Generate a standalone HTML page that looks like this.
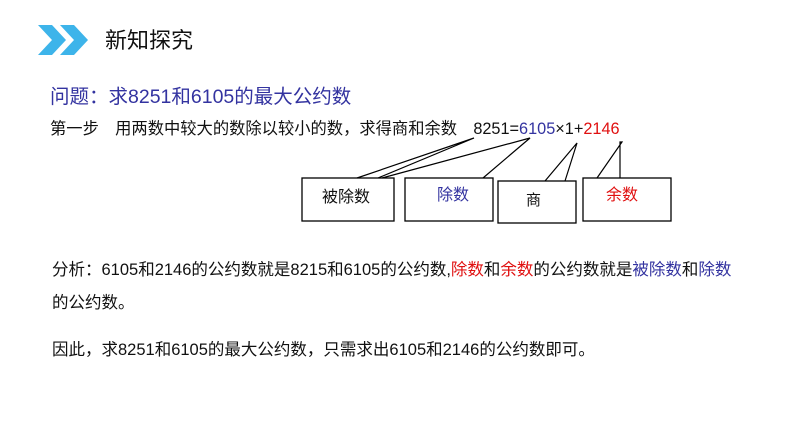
<!DOCTYPE html>
<html><head><meta charset="utf-8"><style>
body{margin:0;width:794px;height:447px;background:#fff;position:relative;overflow:hidden;font-family:"Liberation Sans","Noto Sans CJK SC",sans-serif;color:#111}
.t{position:absolute;white-space:nowrap;line-height:1}
.b{color:#3333a0}.r{color:#e01010}
</style></head><body>
<svg width="794" height="447" style="position:absolute;left:0;top:0">
<polygon points="38,25 52,25 66,40 52,55 38,55 52,40" fill="#3db4ea"/>
<polygon points="60,25 74,25 88,40 74,55 60,55 74,40" fill="#3db4ea"/>
<g fill="#fff" stroke="#000" stroke-width="1.3">
<rect x="302" y="178" width="92" height="43"/>
<rect x="405" y="178" width="88" height="43"/>
<rect x="498" y="181" width="78" height="42"/>
<rect x="583" y="178" width="88" height="43"/>
</g>
<g fill="none" stroke="#000" stroke-width="1.2">
<polyline points="357,178 474,138 378,178"/>
<polyline points="382,178 530,138 483,178"/>
<polyline points="545,181 577,143 565,181"/>
<polyline points="597,178 622,142 620,142 620,178"/>
</g>
</svg>
<div class="t" style="left:105px;top:30px;font-size:22px">新知探究</div>
<div class="t b" style="left:50px;top:88px;font-size:19.5px">问题：求8251和6105的最大公约数</div>
<div class="t" style="left:50px;top:121px;font-size:16.3px">第一步　用两数中较大的数除以较小的数，求得商和余数　8251=<span class="b">6105</span>×1+<span class="r">2146</span></div>
<div class="t" style="left:322px;top:190px;font-size:16px">被除数</div>
<div class="t b" style="left:437px;top:188px;font-size:16px">除数</div>
<div class="t" style="left:526px;top:193px;font-size:15px">商</div>
<div class="t r" style="left:606px;top:188px;font-size:16px">余数</div>
<div class="t" style="left:52px;top:262px;font-size:16.5px">分析：6105和2146的公约数就是8215和6105的公约数,<span class="r">除数</span>和<span class="r">余数</span>的公约数就是<span class="b">被除数</span>和<span class="b">除数</span></div>
<div class="t" style="left:52px;top:295px;font-size:16.5px">的公约数。</div>
<div class="t" style="left:52px;top:342px;font-size:16.5px">因此，求8251和6105的最大公约数，只需求出6105和2146的公约数即可。</div>
</body></html>
